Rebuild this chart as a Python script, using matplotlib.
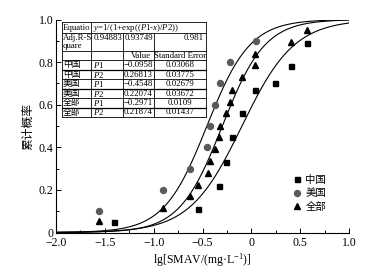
import numpy as np
import matplotlib
matplotlib.use("Agg")
import matplotlib.pyplot as plt

plt.rcParams['font.family'] = ['Liberation Serif', 'Noto Sans CJK SC']
plt.rcParams['mathtext.fontset'] = 'custom'
plt.rcParams['mathtext.rm'] = 'Liberation Serif'
plt.rcParams['mathtext.it'] = 'Liberation Serif:italic'

# ---------------- data ----------------
series_names = ["中国", "美国", "全部"]
china_x = [-1.41, -0.55, -0.33, -0.26, -0.20, -0.10, 0.04, 0.24, 0.41, 0.57]
china_y = [0.05, 0.11, 0.22, 0.33, 0.45, 0.56, 0.67, 0.70, 0.78, 0.89]
usa_x = [-1.56, -0.90, -0.625, -0.454, -0.424, -0.376, -0.318, -0.216, 0.044]
usa_y = [0.10, 0.20, 0.30, 0.40, 0.50, 0.60, 0.70, 0.80, 0.90]
all_x = [-1.56, -0.90, -0.625, -0.55, -0.448, -0.421, -0.376, -0.329, -0.321,
         -0.26, -0.216, -0.199, -0.096, 0.037, 0.040, 0.408, 0.569]
all_y = [0.056, 0.113, 0.17, 0.225, 0.28, 0.338, 0.393, 0.449, 0.502,
         0.559, 0.612, 0.67, 0.729, 0.785, 0.839, 0.895, 0.95]
fit_p1 = [-0.0958, -0.4548, -0.2971]
fit_p2 = [0.26813, 0.22074, 0.21874]
adj_r2 = ["0.94883", "0.93749", "0.981"]
se_p1 = ["0.03068", "0.02679", "0.0109"]
se_p2 = ["0.03775", "0.03672", "0.01437"]
val_p1 = ["\u22120.0958", "\u22120.4548", "\u22120.2971"]
val_p2 = ["0.26813", "0.22074", "0.21874"]
xtick_vals = [-2.0, -1.5, -1.0, -0.5, 0.0, 0.5, 1.0]
xtick_labels = ["\u22122.0", "\u22121.5", "\u22121.0", "\u22120.5", "0", "0.5", "1.0"]
ytick_vals = [0.0, 0.2, 0.4, 0.6, 0.8, 1.0]
ytick_labels = ["0", "0.2", "0.4", "0.6", "0.8", "1.0"]

W, H = 372, 269
fig = plt.figure(figsize=(W / 100, H / 100), dpi=100)
ax = fig.add_axes([56 / W, 1 - 232.5 / H, (349 - 56) / W, (232.5 - 19.5) / H])

xs = np.linspace(-2.0, 1.0, 400)
for p1, p2 in zip(fit_p1, fit_p2):
    ax.plot(xs, 1 / (1 + np.exp((p1 - xs) / p2)), color='black', lw=0.8, zorder=2)

ax.plot(china_x, china_y, ls='none', marker='s', ms=3.6, color='black', label=series_names[0], zorder=3)
ax.plot(usa_x, usa_y, ls='none', marker='o', ms=4.3, color='#5a5a5a', label=series_names[1], zorder=3)
ax.plot(all_x, all_y, ls='none', marker='^', ms=4.6, color='black', label=series_names[2], zorder=3)

ax.set_xlim(-2.0, 1.0)
ax.set_ylim(0, 1.0)
ax.set_xticks(xtick_vals)
ax.set_xticklabels(xtick_labels)
ax.set_yticks(ytick_vals)
ax.set_yticklabels(ytick_labels)
ax.set_xticks(np.arange(-2.0, 1.01, 0.25), minor=True)
ax.set_yticks(np.arange(0, 1.01, 0.1), minor=True)
ax.tick_params(which='both', direction='in', labelsize=8.5, width=0.7)
ax.tick_params(which='major', length=3.5)
ax.tick_params(which='minor', length=2)
ax.tick_params(axis='x', pad=3)
ax.tick_params(axis='y', pad=2)
for s in ['top', 'right']:
    ax.spines[s].set_visible(False)
for s in ['left', 'bottom']:
    ax.spines[s].set_linewidth(0.8)

ax.set_xlabel("lg[SMAV/(mg\u00b7L$^{\u22121}$)]", fontsize=8.5, labelpad=2)
ax.set_ylabel("累计概率", fontsize=8.5, labelpad=3)

leg = ax.legend(loc='upper left', bbox_to_anchor=(293 / W, 1 - 175 / H),
                bbox_transform=fig.transFigure, frameon=False, fontsize=7.5,
                handlelength=0.7, handletextpad=0.5, labelspacing=0.35,
                borderpad=0, borderaxespad=0)

# ---------------- table overlay ----------------
tax = fig.add_axes([0, 0, 1, 1], zorder=5)
tax.set_xlim(0, W)
tax.set_ylim(H, 0)
tax.axis('off')
tax.patch.set_alpha(0)

cx = [62, 91, 123, 154, 205.5]
ry = [22, 33, 51, 60, 69.5, 79, 88.5, 98, 107.5, 116.5]
tax.fill_between([cx[0], cx[-1]], ry[0], ry[-1], color='white', zorder=1)
lw = 0.6
for i, y in enumerate(ry):
    tax.plot([cx[0], cx[-1]], [y, y], color='black', lw=(0.9 if i in (4, 6, 8) else lw), zorder=2)
tax.plot([cx[0], cx[0]], [ry[0], ry[-1]], color='black', lw=lw)
tax.plot([cx[-1], cx[-1]], [ry[0], ry[-1]], color='black', lw=lw)
tax.plot([cx[1], cx[1]], [ry[0], ry[-1]], color='black', lw=lw)
for c in (cx[2], cx[3]):
    tax.plot([c, c], [ry[1], ry[-1]], color='black', lw=lw)

fs = 6.3
tkw = dict(fontsize=fs, color='black', zorder=3)
tax.text(cx[0] + 1, (ry[0] + ry[1]) / 2, "Equatio", ha='left', va='center', **tkw)
tax.text(cx[1] + 2, (ry[0] + ry[1]) / 2, "$y$=1/(1+exp(($P$1-$x$)/$P$2))", ha='left', va='center', **tkw)
tax.text(cx[0] + 1, ry[1] + 0.5, "Adj.R-S\nquare", ha='left', va='top', linespacing=1.0, **tkw)
tax.text(cx[2] - 1, ry[1] + 0.5, adj_r2[0], ha='right', va='top', **tkw)
tax.text(cx[3] - 1, ry[1] + 0.5, adj_r2[1], ha='right', va='top', **tkw)
tax.text(cx[4] - 2, ry[1] + 0.5, adj_r2[2], ha='right', va='top', **tkw)
tax.text((cx[2] + cx[3]) / 2 + 2, (ry[2] + ry[3]) / 2 + 0.5, "Value", ha='center', va='center', **tkw)
tax.text((cx[3] + cx[4]) / 2, (ry[2] + ry[3]) / 2 + 0.5, "Standard Error", ha='center', va='center', **tkw)

rows = []
for k in range(3):
    rows.append((series_names[k], "$P$1", val_p1[k], se_p1[k]))
    rows.append((series_names[k], "$P$2", val_p2[k], se_p2[k]))
for r, (nm, pn, val, se) in enumerate(rows):
    yc = (ry[3 + r] + ry[4 + r]) / 2 + 0.3
    tax.text(cx[0] + 1, yc, nm, ha='left', va='center', **tkw)
    tax.text(cx[1] + 2, yc, pn, ha='left', va='center', **tkw)
    tax.text(cx[2] + 0.5, yc, val, ha='left', va='center', **tkw)
    tax.text((cx[3] + cx[4]) / 2, yc, se, ha='center', va='center', **tkw)

fig.savefig("out.png", dpi=100)
